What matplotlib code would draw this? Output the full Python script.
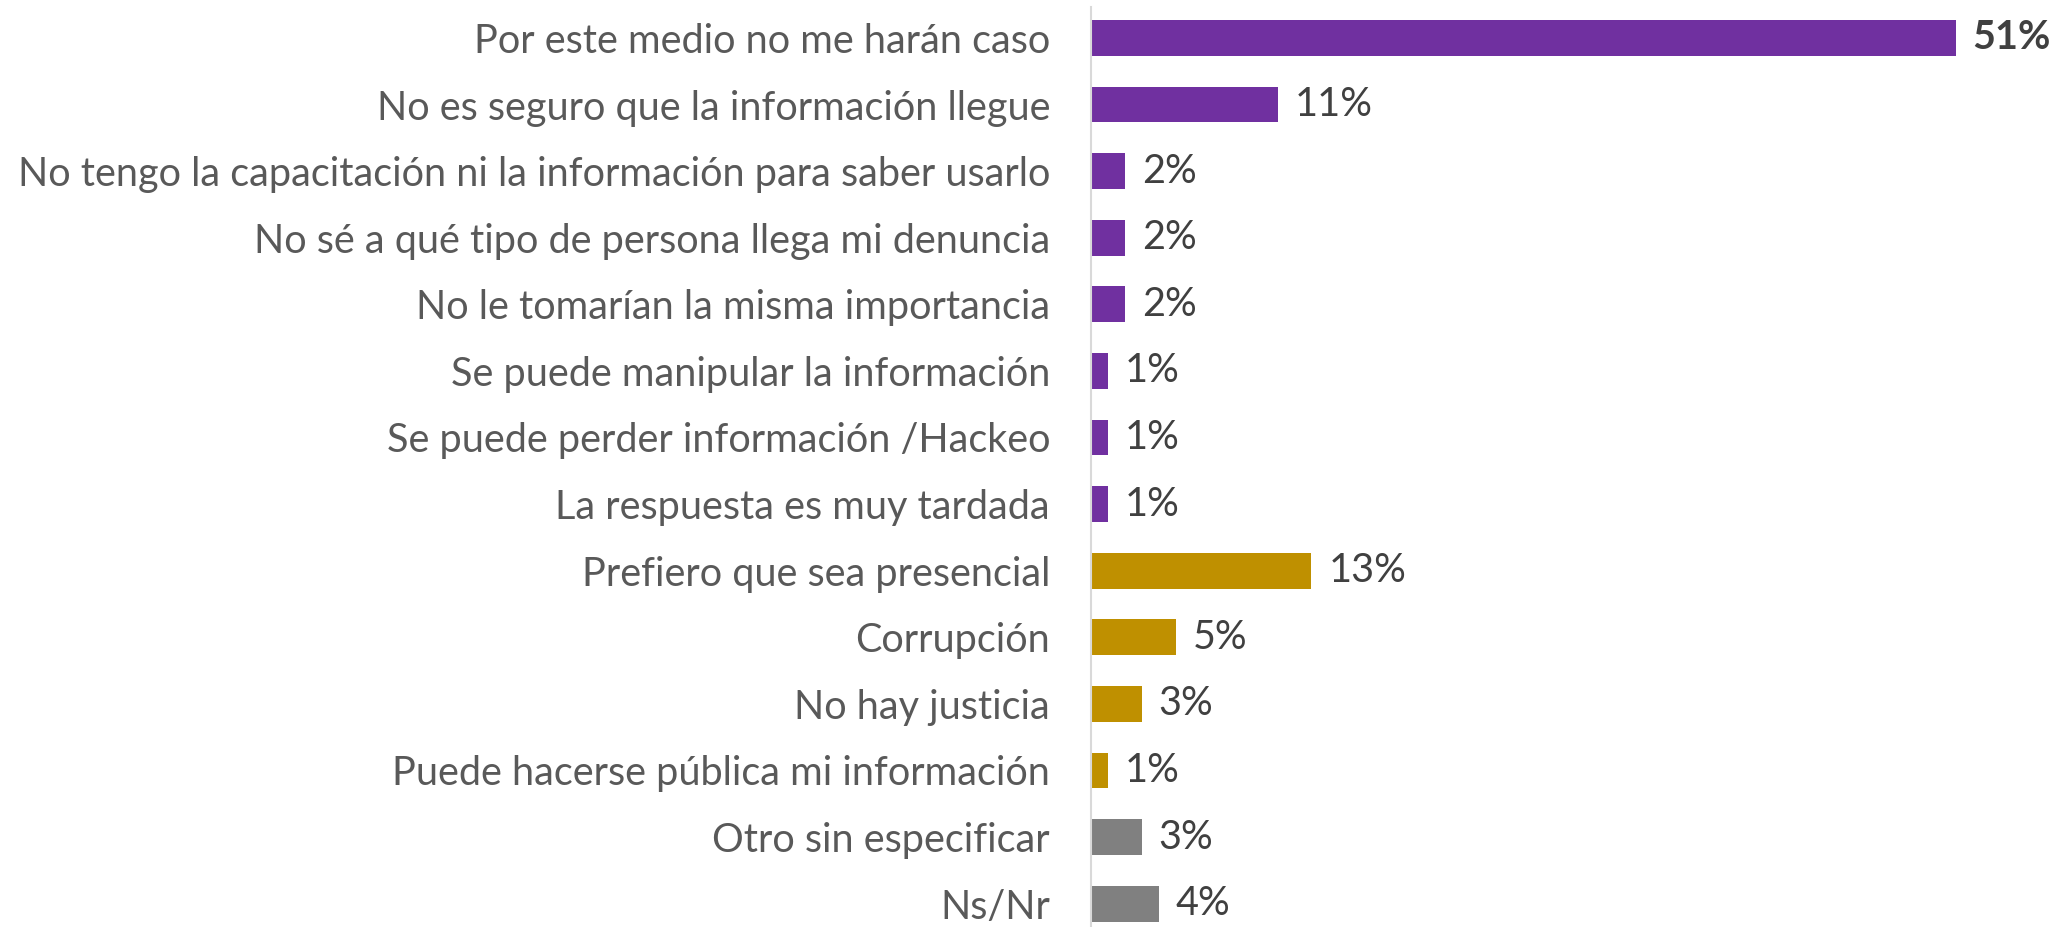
import matplotlib
import matplotlib.pyplot as plt
import numpy as np
matplotlib.use("Agg")

# ============================================================
# Data
# ============================================================
categories = [
    "Por este medio no me harán caso",
    "No es seguro que la información llegue",
    "No tengo la capacitación ni la información para saber usarlo",
    "No sé a qué tipo de persona llega mi denuncia",
    "No le tomarían la misma importancia",
    "Se puede manipular la información",
    "Se puede perder información /Hackeo",
    "La respuesta es muy tardada",
    "Prefiero que sea presencial",
    "Corrupción",
    "No hay justicia",
    "Puede hacerse pública mi información",
    "Otro sin especificar",
    "Ns/Nr",
]
values = [51, 11, 2, 2, 2, 1, 1, 1, 13, 5, 3, 1, 3, 4]
groups = ["a"] * 8 + ["b"] * 4 + ["c"] * 2

colors = {"a": "#7030A0", "b": "#BF9000", "c": "#808080"}

# ============================================================
# Plot
# ============================================================
plt.rcParams["font.family"] = ["Lato", "DejaVu Sans"]

fig = plt.figure(figsize=(20.66, 9.27), dpi=100)
ax = fig.add_axes([1091 / 2066, 0, 1 - 1091 / 2066, 1 - 6.6 / 927])

y = np.arange(len(categories))
ax.barh(y, values, height=0.54, color=[colors[g] for g in groups])

for i, v in enumerate(values):
    ax.text(v + 1.0, i, f"{v}%", va="center", ha="left", fontsize=28.5,
            color="#404040", fontweight="bold" if i == 0 else "normal")

ax.set_yticks(y)
ax.set_yticklabels(categories, fontsize=28.5, color="#595959")
ax.tick_params(axis="y", length=0, pad=29.5)
ax.set_xticks([])
ax.set_xlim(0, 57.5)
ax.set_ylim(13.35, -0.47)

for s in ["top", "right", "bottom"]:
    ax.spines[s].set_visible(False)
ax.spines["left"].set_color("#D9D9D9")
ax.spines["left"].set_linewidth(1.5)

fig.savefig("out.png", dpi=100)
